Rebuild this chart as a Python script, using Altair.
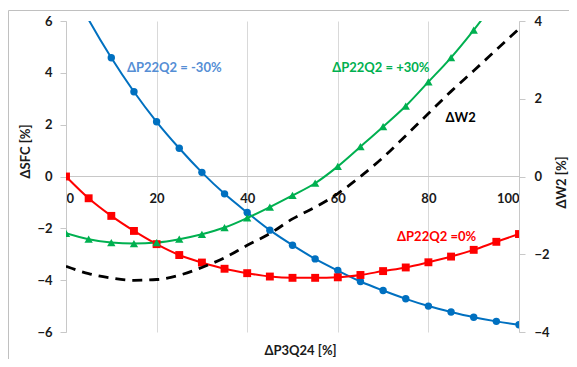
import altair as alt
import pandas as pd

# ---------------- data ----------------
x_vals = [0, 5, 10, 15, 20, 25, 30, 35, 40, 45, 50, 55, 60, 65, 70, 75, 80, 85, 90, 95, 100]

sfc_minus30 = [7.7, 6.05, 4.58, 3.27, 2.11, 1.09, 0.16, -0.67, -1.39, -2.07, -2.65,
               -3.18, -3.63, -4.05, -4.40, -4.72, -5.00, -5.23, -5.43, -5.59, -5.72]
sfc_zero = [0.0, -0.84, -1.52, -2.10, -2.61, -3.03, -3.32, -3.56, -3.73, -3.86, -3.91,
            -3.91, -3.89, -3.80, -3.65, -3.51, -3.31, -3.09, -2.83, -2.52, -2.22]
sfc_plus30 = [-2.19, -2.42, -2.55, -2.59, -2.55, -2.42, -2.23, -1.97, -1.60, -1.18, -0.73,
              -0.26, 0.39, 1.15, 1.92, 2.72, 3.65, 4.59, 5.65, 6.8, 8.0]
w2_vals = [-2.31, -2.50, -2.61, -2.67, -2.65, -2.54, -2.34, -2.09, -1.77, -1.47, -1.09,
           -0.79, -0.44, 0.0, 0.49, 1.05, 1.62, 2.19, 2.72, 3.26, 3.80]

series_names = ["ΔP22Q2 = -30%", "ΔP22Q2 = 0%", "ΔP22Q2 = +30%"]
series_colors = ["#0070C0", "#FF0000", "#00B050"]
series_shapes = ["circle", "square", "triangle-up"]
series_sizes = [55, 70, 60]

label_texts = ["ΔP22Q2 = -30%", "ΔP22Q2 = +30%", "ΔW2", "ΔP22Q2 =0%"]
label_x = [23.9, 69.5, 87.1, 81.8]
label_y = [4.17, 4.17, 2.24, -2.34]
label_colors = ["#558ED5", "#00B050", "#000000", "#FF0000"]

left_ticks = [-6, -4, -2, 0, 2, 4, 6]
right_ticks = [-4, -2, 0, 2, 4]
x_ticks = [0, 20, 40, 60, 80, 100]

# ---------------- tables ----------------
rows = []
for name, vals in zip(series_names, [sfc_minus30, sfc_zero, sfc_plus30]):
    for xv, yv in zip(x_vals, vals):
        rows.append({"x": xv, "y": yv, "series": name})
df_sfc = pd.DataFrame(rows)
df_w2 = pd.DataFrame({"x": x_vals, "w2": w2_vals})
df_one = pd.DataFrame({"k": [0]})

FONT = "Lato"
AX_GRAY = "#c8c8c8"
LBL = "#1a1a1a"

x_axis = alt.Axis(values=x_ticks, grid=True, gridColor="#d9d9d9", gridWidth=1,
                  offset=-156, ticks=True, tickSize=0, domainColor=AX_GRAY,
                  labelFont=FONT, labelFontSize=13, labelFontWeight="bold",
                  labelColor=LBL, labelPadding=16,
                  title="ΔP3Q24 [%]", titleFont=FONT, titleFontSize=13,
                  titleFontWeight="bold", titleColor=LBL,
                  titleX=234, titleY=174, titleBaseline="middle", titleAlign="center")
x_enc = alt.X("x:Q", scale=alt.Scale(domain=[0, 100], nice=False, zero=False), axis=x_axis)

y_axis = alt.Axis(values=left_ticks, grid=False, tickSize=6, tickColor=AX_GRAY,
                  domainColor=AX_GRAY, labelFont=FONT, labelFontSize=13,
                  labelFontWeight="bold", labelColor=LBL, labelPadding=8,
                  title="ΔSFC [%]", titleFont=FONT, titleFontSize=13,
                  titleFontWeight="bold", titleColor=LBL, titleAngle=270,
                  titleX=-41, titleY=130, titleBaseline="middle", titleAlign="center")
y_scale = alt.Scale(domain=[-6, 6], nice=False, zero=False)

y2_axis = alt.Axis(orient="right", values=right_ticks, grid=False, tickSize=6,
                   tickColor=AX_GRAY, domainColor=AX_GRAY, labelFont=FONT,
                   labelFontSize=13, labelFontWeight="bold", labelColor=LBL,
                   labelPadding=9, title="ΔW2 [%]", titleFont=FONT, titleFontSize=13,
                   titleFontWeight="bold", titleColor=LBL, titleAngle=270,
                   titleX=42, titleY=161, titleBaseline="middle", titleAlign="center")

color_enc = alt.Color("series:N", scale=alt.Scale(domain=series_names, range=series_colors),
                      legend=None)

lines = alt.Chart(df_sfc).mark_line(strokeWidth=2, interpolate="monotone", clip=True).encode(
    x=x_enc, y=alt.Y("y:Q", scale=y_scale, axis=y_axis), color=color_enc)

points = alt.Chart(df_sfc).transform_filter("datum.y <= 6").mark_point(
    filled=True, opacity=1, clip=True).encode(
    x=x_enc, y=alt.Y("y:Q", scale=y_scale, axis=y_axis), color=color_enc,
    shape=alt.Shape("series:N", scale=alt.Scale(domain=series_names, range=series_shapes),
                    legend=None),
    size=alt.Size("series:O", scale=alt.Scale(domain=series_names, range=series_sizes),
                  legend=None))

texts = []
for t, lx, ly, c in zip(label_texts, label_x, label_y, label_colors):
    dft = pd.DataFrame({"x": [lx], "y": [ly], "t": [t]})
    texts.append(alt.Chart(dft).mark_text(font=FONT, fontSize=13, fontWeight="bold",
                                          color=c, align="center", baseline="middle").encode(
        x=x_enc, y=alt.Y("y:Q", scale=y_scale, axis=y_axis), text="t:N"))

border_top = alt.Chart(df_one).mark_rule(color="#c0c0c0", strokeWidth=1).encode(
    x=alt.value(-57.5), x2=alt.value(560), y=alt.value(-10.5))
border_left = alt.Chart(df_one).mark_rule(color="#c0c0c0", strokeWidth=1).encode(
    x=alt.value(-57.5), y=alt.value(-10.5), y2=alt.value(400))

left = alt.layer(lines, points, *texts, border_top, border_left)

w2_line = alt.Chart(df_w2).mark_line(color="black", strokeWidth=2.8, strokeDash=[10, 7],
                                      interpolate="monotone", clip=True).encode(
    x=x_enc, y=alt.Y("w2:Q", scale=alt.Scale(domain=[-4, 4], nice=False, zero=False),
                     axis=y2_axis))

chart = alt.layer(left, w2_line).resolve_scale(y="independent").properties(
    width=453, height=311,
    autosize=alt.AutoSizeParams(type="none"),
    padding={"left": 58, "top": 13, "right": 50, "bottom": 27},
    background="white",
).configure_view(stroke=None)

chart.save("out.html", embed_options={"renderer": "svg", "actions": False})
